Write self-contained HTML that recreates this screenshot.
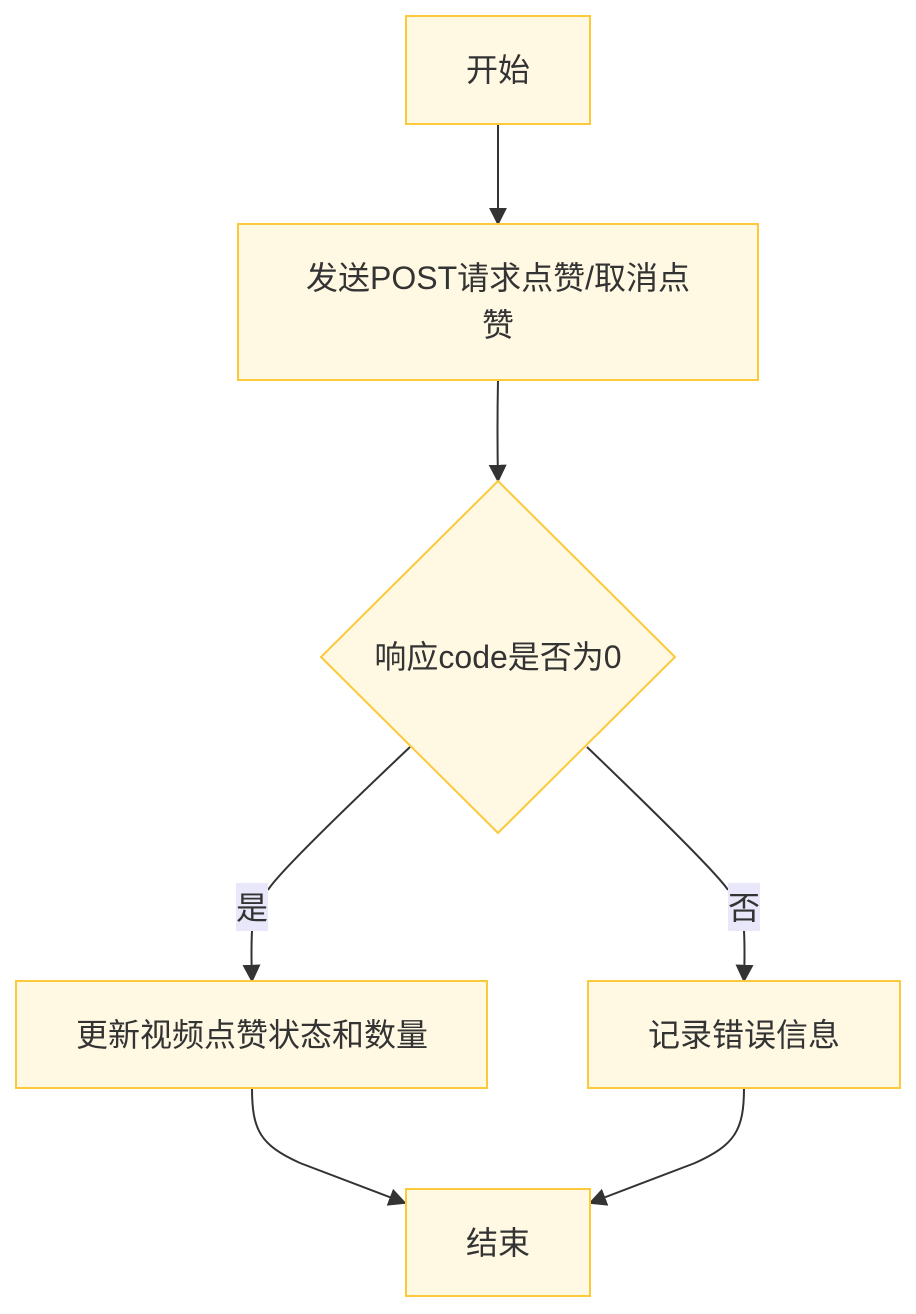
<!DOCTYPE html>
<html><head><meta charset="utf-8"><style>
html,body{margin:0;padding:0;background:#fff;}
svg{display:block;}
text{font-family:"Liberation Sans","Noto Sans CJK SC",sans-serif;font-size:32px;fill:#333;}
</style></head><body>
<svg width="916" height="1314" viewBox="0 0 916 1314" xmlns="http://www.w3.org/2000/svg">
<defs>
<marker id="b" viewBox="0 0 10 10" refX="9" refY="5" markerWidth="18" markerHeight="18" orient="auto" markerUnits="userSpaceOnUse">
<path d="M0,0 L10,5 L0,10 z" fill="#333"/>
</marker>
</defs>
<g fill="none" stroke="#333" stroke-width="2">
<path d="M498,124 L498,224" marker-end="url(#b)"/>
<path d="M498,380 Q497,430 498,481" marker-end="url(#b)"/>
<path d="M410,747 Q280,870 268,890"/>
<path d="M252,931 Q251,950 252,981" marker-end="url(#b)"/>
<path d="M587,747 Q715,870 728,890"/>
<path d="M744,931 Q745,950 744,981" marker-end="url(#b)"/>
<path d="M252,1088 C252,1130 260,1145 300,1163 L405,1203" marker-end="url(#b)"/>
<path d="M744,1088 C744,1130 735,1145 695,1163 L590,1203" marker-end="url(#b)"/>
</g>
<g fill="#fff8e3" stroke="#fcc93a" stroke-width="2">
<rect x="406" y="16" width="184" height="108"/>
<rect x="238" y="224" width="520" height="156"/>
<polygon points="498,481 675,657 498,833 321,657"/>
<rect x="16" y="981" width="471" height="107"/>
<rect x="588" y="981" width="312" height="107"/>
<rect x="406" y="1189" width="184" height="107"/>
</g>
<rect x="236" y="883" width="32" height="48" fill="#e8e8fa"/>
<rect x="728" y="883" width="32" height="48" fill="#e8e8fa"/>
<g text-anchor="middle">
<text x="498" y="81">开始</text>
<text x="498" y="289">发送POST请求点赞/取消点</text>
<text x="498" y="336">赞</text>
<text x="498" y="668">响应code是否为0</text>
<text x="252" y="919">是</text>
<text x="744" y="919">否</text>
<text x="252" y="1046">更新视频点赞状态和数量</text>
<text x="744" y="1046">记录错误信息</text>
<text x="498" y="1254">结束</text>
</g>
</svg>
</body></html>
